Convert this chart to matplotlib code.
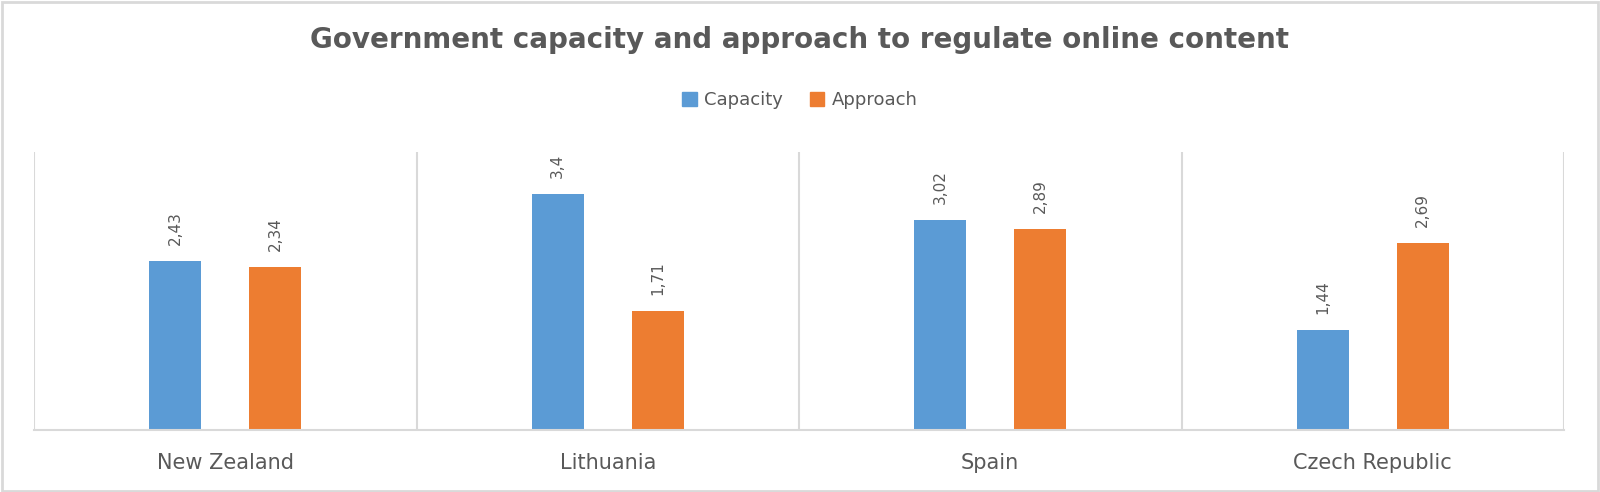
import matplotlib
matplotlib.use("Agg")
import matplotlib.pyplot as plt
from matplotlib.patches import Rectangle, Patch
import numpy as np

categories = ["New Zealand", "Lithuania", "Spain", "Czech Republic"]
capacity = [2.43, 3.4, 3.02, 1.44]
approach = [2.34, 1.71, 2.89, 2.69]
series_names = ["Capacity", "Approach"]
title = "Government capacity and approach to regulate online content"

BLUE = "#5B9BD5"
ORANGE = "#ED7D31"
TXT = "#595959"
GRID = "#D9D9D9"

fig = plt.figure(figsize=(16, 4.92), dpi=100)
ax = fig.add_axes([34/1600, 1-430/492, (1564-34)/1600, (430-152)/492])

x = np.arange(len(categories))
w = 0.136
off = 0.131
b1 = ax.bar(x - off, capacity, w, color=BLUE, label=series_names[0])
b2 = ax.bar(x + off, approach, w, color=ORANGE, label=series_names[1])

for bars, vals in ((b1, capacity), (b2, approach)):
    for rect, v in zip(bars, vals):
        ax.annotate(f"{v:g}".replace(".", ","),
                    (rect.get_x() + rect.get_width()/2, rect.get_height()),
                    xytext=(0, 11.5), textcoords="offset points",
                    rotation=90, ha="center", va="bottom",
                    fontsize=11, color=TXT)

ax.set_xlim(-0.5, len(categories) - 0.5)
ax.set_ylim(0, 4)
ax.set_yticks([])
ax.set_xticks([])
for s in ("top", "left", "right"):
    ax.spines[s].set_visible(False)
ax.spines["bottom"].set_color(GRID)
ax.spines["bottom"].set_linewidth(1.5)
for b in np.arange(len(categories) + 1) - 0.5:
    ax.axvline(b, color=GRID, lw=1.5, zorder=0)

for i, c in enumerate(categories):
    ax.text(i, -0.48, c, ha="center", va="center", fontsize=15,
            color=TXT, transform=ax.transData)

fig.text(0.5, 1-40/492, title, ha="center", va="center",
         fontsize=20, fontweight="bold", color=TXT)

handles = [Patch(color=BLUE), Patch(color=ORANGE)]
fig.legend(handles, series_names, loc="center", bbox_to_anchor=(0.5, 1-100/492),
           ncol=2, frameon=False, fontsize=13, labelcolor=TXT,
           handlelength=0.8, handleheight=0.8, handletextpad=0.4,
           columnspacing=1.5)

fig.patches.append(Rectangle((0.001, 0.002), 0.998, 0.994, transform=fig.transFigure,
                             fill=False, edgecolor=GRID, lw=2))

fig.savefig("out.png", dpi=100, facecolor="white")
